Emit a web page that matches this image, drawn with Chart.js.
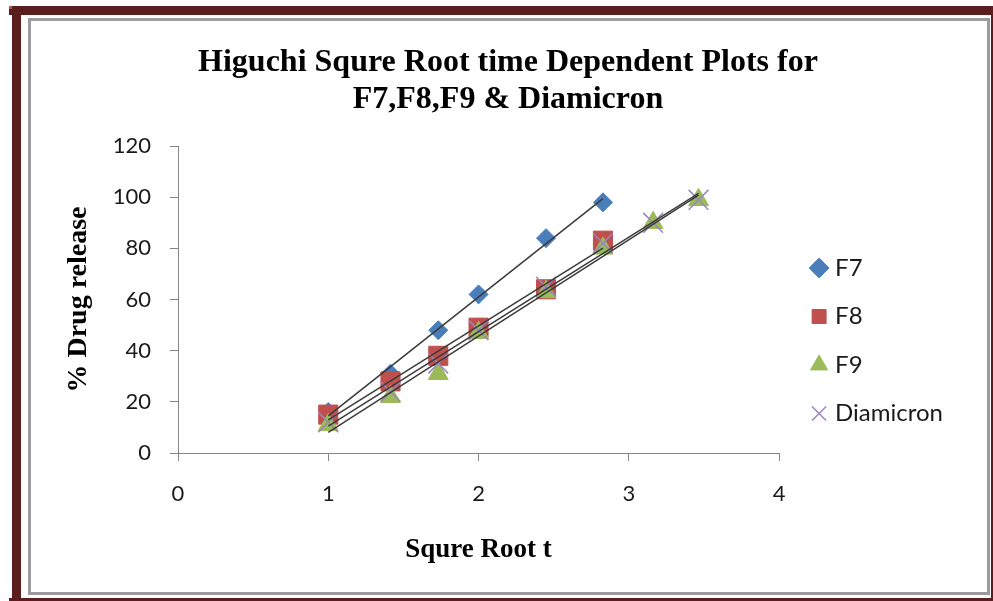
<!DOCTYPE html>
<html>
<head>
<meta charset="utf-8">
<title>Higuchi plot</title>
<script src="https://cdn.jsdelivr.net/npm/chart.js@4"></script>
<style>
  body { margin: 0; background: #fff; }
  #wrap { position: relative; width: 993px; height: 601px; overflow: hidden; background: #fff; }
  .bar { position: absolute; background: #5a1e1e; }
  #frame { position: absolute; left: 28px; top: 18px; width: 962px; height: 577px; box-sizing: border-box; border: 3px solid #9c9c9c; }
  #higuchiChart { position: absolute; left: 0; top: 0; }
</style>
</head>
<body>
<div id="wrap">
  <div class="bar" style="left:9px;top:6px;width:984px;height:9px"></div>
  <div class="bar" style="left:12px;top:6px;width:9px;height:595px"></div>
  <div class="bar" style="left:991px;top:6px;width:2px;height:595px"></div>
  <div class="bar" style="left:9px;top:598px;width:984px;height:3px"></div>
  <div style="position:absolute;left:9px;top:6px;width:3px;height:3px;background:#c0504d"></div>
  <div id="frame"></div>
  <canvas id="higuchiChart" width="993" height="601"></canvas>
</div>
<script>
// values
const sqrtTime = [1, 1.414, 1.732, 2, 2.449, 2.828, 3.162, 3.464];
const f7Release = [16, 31, 48, 62, 84, 98];
const f8Release = [15, 28, 38, 49, 64, 83];
const f9Release = [11, 22, 31, 47, 63, 80, 90, 99];
const diamicronRelease = [12, 24, 35, 48, 65, 82, 90, 99];

const xTicks = [0, 1, 2, 3, 4];
const yTicks = [0, 20, 40, 60, 80, 100, 120];

const titleLines = ['Higuchi Squre Root time Dependent Plots for', 'F7,F8,F9 & Diamicron'];

function toPoints(values) {
    return values.map((v, i) => ({ x: sqrtTime[i], y: v }));
}

// least squares line, like the excel linear trendline
function trendLine(values) {
    const xs = sqrtTime.slice(0, values.length);
    const n = xs.length;
    const mx = xs.reduce((a, b) => a + b, 0) / n;
    const my = values.reduce((a, b) => a + b, 0) / n;
    let sxy = 0, sxx = 0;
    for (let i = 0; i < n; i++) {
        sxy += (xs[i] - mx) * (values[i] - my);
        sxx += (xs[i] - mx) * (xs[i] - mx);
    }
    const slope = sxy / sxx;
    const x0 = xs[0], x1 = xs[n - 1];
    return [
        { x: x0, y: my + slope * (x0 - mx) },
        { x: x1, y: my + slope * (x1 - mx) }
    ];
}

function trendSet(values) {
    return {
        label: '',
        data: trendLine(values),
        showLine: true,
        borderColor: '#3a3a3a',
        borderWidth: 1.5,
        pointRadius: 0,
        fill: false,
        order: 0
    };
}

const padLeft = 63;
const padRight = 40;

const ctx = document.getElementById('higuchiChart').getContext('2d');
const higuchiChart = new Chart(ctx, {
    type: 'scatter',
    data: {
        datasets: [
            {
                label: 'F7',
                data: toPoints(f7Release),
                pointStyle: 'rectRot',
                pointRadius: 9.5,
                backgroundColor: '#4a7ebb',
                borderColor: '#4a7ebb',
                borderWidth: 1,
                order: 4
            },
            {
                label: 'F8',
                data: toPoints(f8Release),
                pointStyle: 'rect',
                pointRadius: 13.5,
                backgroundColor: '#c0504d',
                borderColor: '#c0504d',
                borderWidth: 1,
                order: 3
            },
            {
                label: 'F9',
                data: toPoints(f9Release),
                pointStyle: 'triangle',
                pointRadius: 11.5,
                backgroundColor: '#9bbb59',
                borderColor: '#9bbb59',
                borderWidth: 1,
                order: 2
            },
            {
                label: 'Diamicron',
                data: toPoints(diamicronRelease),
                pointStyle: 'crossRot',
                pointRadius: 14,
                backgroundColor: '#9a86bf',
                borderColor: '#9a86bf',
                borderWidth: 1.5,
                order: 1
            },
            trendSet(f7Release),
            trendSet(f8Release),
            trendSet(f9Release),
            trendSet(diamicronRelease)
        ]
    },
    options: {
        responsive: false,
        animation: false,
        layout: {
            padding: { left: padLeft, right: padRight, top: 0, bottom: 0 }
        },
        plugins: {
            title: {
                display: true,
                text: titleLines,
                color: '#000',
                font: { family: 'Liberation Serif', size: 32, weight: 'bold', lineHeight: 1.16 },
                padding: { top: 44.5, bottom: 27.3 }
            },
            legend: {
                position: 'right',
                align: 'start',
                maxWidth: 220,
                title: {
                    display: true,
                    text: '',
                    font: { size: 12, lineHeight: 1.2 },
                    padding: { top: 217.1, bottom: 0 }
                },
                labels: {
                    usePointStyle: true,
                    boxWidth: 8,
                    boxHeight: 14,
                    padding: 24.5,
                    color: '#1a1a1a',
                    font: { family: 'Lato', size: 24 },
                    filter: item => item.text !== '',
                    sort: (a, b) => a.datasetIndex - b.datasetIndex
                }
            },
            tooltip: { enabled: false }
        },
        scales: {
            x: {
                type: 'linear',
                min: xTicks[0],
                max: xTicks[xTicks.length - 1],
                ticks: {
                    stepSize: xTicks[1] - xTicks[0],
                    color: '#1a1a1a',
                    font: { family: 'Lato', size: 22 },
                    padding: 19.8
                },
                grid: { drawOnChartArea: false, drawTicks: true, tickLength: 8, color: '#868686' },
                border: { color: '#868686' },
                title: {
                    display: true,
                    text: 'Squre Root t',
                    color: '#000',
                    font: { family: 'Liberation Serif', size: 27, weight: 'bold', lineHeight: 1.2 },
                    padding: 34.8
                },
                afterFit: scale => { scale.height = 148; }
            },
            y: {
                type: 'linear',
                min: yTicks[0],
                max: yTicks[yTicks.length - 1],
                ticks: {
                    stepSize: yTicks[1] - yTicks[0],
                    color: '#1a1a1a',
                    font: { family: 'Lato', size: 22 },
                    padding: 19
                },
                grid: { drawOnChartArea: false, drawTicks: true, tickLength: 8, color: '#868686' },
                border: { color: '#868686' },
                title: {
                    display: true,
                    text: '% Drug release',
                    color: '#000',
                    font: { family: 'Liberation Serif', size: 28, weight: 'bold', lineHeight: 1.2 },
                    padding: -1
                },
                afterFit: scale => { scale.width = 178 - padLeft; }
            },
            // empty strip between the plot and the legend
            gap: {
                type: 'linear',
                position: 'right',
                display: true,
                ticks: { display: false },
                grid: { display: false },
                border: { display: false },
                afterFit: scale => { scale.width = 11.5; }
            }
        }
    }
});
</script>
</body>
</html>
